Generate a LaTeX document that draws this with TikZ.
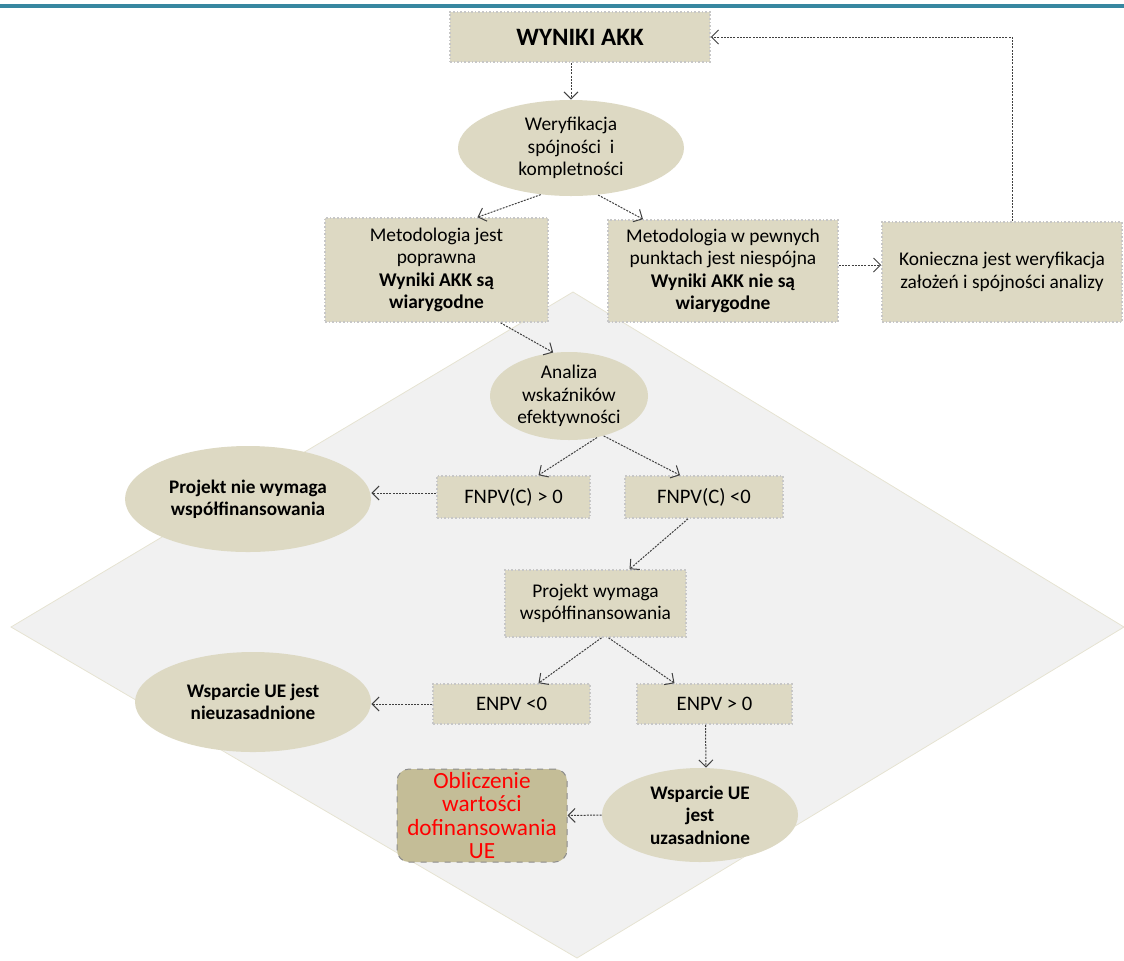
\documentclass[tikz,border=0pt]{standalone}
\usepackage{fontspec}
\setmainfont{Carlito}
\usetikzlibrary{calc,positioning,shapes.geometric,arrows.meta}

\definecolor{tanfill}{RGB}{221,217,195}
\definecolor{olivefill}{RGB}{196,189,151}
\definecolor{diagfill}{RGB}{241,241,241}
\definecolor{diagline}{RGB}{230,227,210}
\definecolor{topbar}{RGB}{55,135,160}

\begin{document}
\begin{tikzpicture}[
        x=0.5pt, y=-0.5pt,
        font=\fontsize{9.7}{11.2}\selectfont,
        box/.style={draw=black!22, densely dotted, line width=0.8pt, fill=tanfill, align=center, inner sep=2pt},
        bubble/.style={ellipse, fill=tanfill, align=center, inner sep=0pt},
        result/.style={draw=black!45, dashed, line width=0.5pt, rounded corners=6pt, fill=olivefill, align=center, text=red, inner sep=0pt, font=\fontsize{11.6}{11.6}\selectfont},
        arrow/.style={-{Straight Barb[length=3.5pt,width=7pt]}, line width=0.5pt, draw=black!75, dash pattern=on 1pt off 0.6pt},
        bigtext/.style={font=\fontsize{10.3}{12}\selectfont},
        boldtext/.style={font=\fontsize{9.6}{11.2}\selectfont\bfseries},
    ]

    % Background
    \useasboundingbox (0,0) rectangle (1124,960);
    \fill[topbar] (0,4) rectangle (1124,8);
    \filldraw[fill=diagfill, draw=diagline, line width=0.4pt] (573,292) -- (1124,627) -- (577,958) -- (11,627) -- cycle;

    % Check of the results
    \node[box, minimum width=130pt, minimum height=25pt, font=\fontsize{12.5}{14}\selectfont\bfseries] (results) at (580,37) {WYNIKI AKK};
    \node[bubble, minimum width=113pt, minimum height=48pt] (verify) at (571,148) {Weryfikacja\\spójności~ i\\kompletności};
    \node[box, minimum width=111.5pt, minimum height=52pt] (valid) at (436.5,270) {Metodologia jest\\poprawna\\\textbf{Wyniki AKK są}\\\textbf{wiarygodne}};
    \node[box, minimum width=115pt, minimum height=51pt] (invalid) at (723,271) {Metodologia w pewnych\\punktach jest niespójna\\\textbf{Wyniki AKK nie są}\\\textbf{wiarygodne}};
    \node[box, minimum width=120pt, minimum height=50pt] (check) at (1002,272) {Konieczna jest weryfikacja\\założeń i spójności analizy};

    % Indicators
    \node[bubble, minimum width=79pt, minimum height=44pt] (analysis) at (569,396) {Analiza\\wskaźników\\efektywności};
    \node[box, bigtext, minimum width=76.5pt, minimum height=21pt] (fpos) at (513.5,497) {FNPV(C) > 0};
    \node[box, bigtext, minimum width=79pt, minimum height=21pt] (fneg) at (704,497) {FNPV(C) <0};
    \node[bubble, boldtext, minimum width=123pt, minimum height=53pt] (nofund) at (248,499) {Projekt nie wymaga\\współfinansowania};
    \node[box, minimum width=90.5pt, minimum height=33.5pt] (needfund) at (595.5,603.5) {Projekt wymaga\\współfinansowania};
    \node[box, bigtext, minimum width=78.5pt, minimum height=20pt] (eneg) at (511.5,704) {ENPV <0};
    \node[box, bigtext, minimum width=77.5pt, minimum height=20pt] (epos) at (714.5,704) {ENPV > 0};
    \node[bubble, boldtext, minimum width=118pt, minimum height=50pt] (unjust) at (253,702) {Wsparcie UE jest\\nieuzasadnione};
    \node[bubble, boldtext, minimum width=98pt, minimum height=47pt] (just) at (700,815) {Wsparcie UE\\jest\\uzasadnione};
    \node[result, minimum width=85pt, minimum height=46.5pt] (cofund) at (482,815.5) {Obliczenie\\wartości\\dofinansowania\\UE};

    % Lines
    \draw[arrow] (results.south -| verify.north) -- (verify.north);
    \draw[arrow] (verify.237) -- ($(valid.north)+(41,0)$);
    \draw[arrow] (verify.300) -- ($(invalid.north)+(-80,0)$);
    \draw[arrow] (invalid.east |- 0,265) -- (check.west |- 0,265);
    \draw[arrow] ($(check.north)+(10,0)$) |- (results.east);
    \draw[arrow] ($(valid.south)+(64,0)$) -- (analysis.110);
    \draw[arrow] (analysis.304) -- ($(fpos.north)+(25,0)$);
    \draw[arrow] (analysis.311) -- ($(fneg.north)+(-24,0)$);
    \draw[arrow] (fpos.west |- 0,493) -- (nofund.east |- 0,493);
    \draw[arrow] ($(fneg.south)+(-16,0)$) -- ($(needfund.north)+(34,0)$);
    \draw[arrow] ($(needfund.south)+(6,0)$) -- ($(eneg.north)+(27,0)$);
    \draw[arrow] ($(needfund.south)+(13,0)$) -- ($(epos.north)+(-40,0)$);
    \draw[arrow] (eneg.west) -- (eneg.west -| unjust.east);
    \draw[arrow] ($(epos.south)+(-9,0)$) -- ($(just.north)+(6,0)$);
    \draw[arrow] (just.west) -- (cofund.east);

\end{tikzpicture}
\end{document}
